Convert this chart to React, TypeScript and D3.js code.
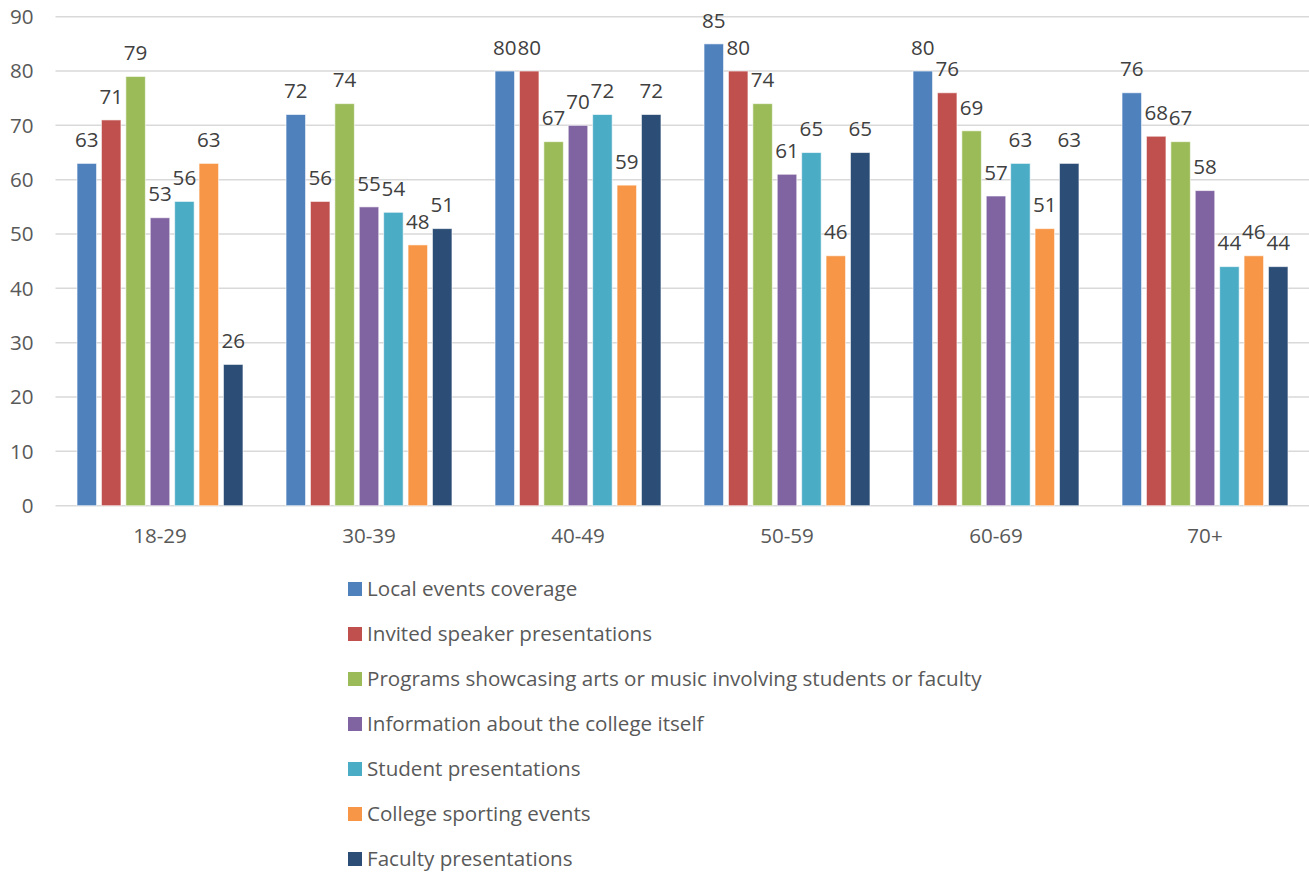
import React from "react";
import * as d3 from "d3";

const categories = ["18-29", "30-39", "40-49", "50-59", "60-69", "70+"];
const seriesNames = [
  "Local events coverage",
  "Invited speaker presentations",
  "Programs showcasing arts or music involving students or faculty",
  "Information about the college itself",
  "Student presentations",
  "College sporting events",
  "Faculty presentations",
];
const localEvents = [63, 72, 80, 85, 80, 76];
const invitedSpeaker = [71, 56, 80, 80, 76, 68];
const programsArts = [79, 74, 67, 74, 69, 67];
const infoCollege = [53, 55, 70, 61, 57, 58];
const studentPres = [56, 54, 72, 65, 63, 44];
const sporting = [63, 48, 59, 46, 51, 46];
const facultyPres = [26, 51, 72, 65, 63, 44];
const yTicks = [0, 10, 20, 30, 40, 50, 60, 70, 80, 90];

const seriesValues = [localEvents, invitedSpeaker, programsArts, infoCollege, studentPres, sporting, facultyPres];
const colors = ["#4F81BD", "#C0504D", "#9BBB59", "#8064A2", "#4BACC6", "#F79646", "#2C4D75"];

const W = 1309;
const H = 876;
const FONT = "Open Sans, sans-serif";
const FS = 20.6;

export default function App() {
  const plotLeft = 55.5;
  const plotRight = 1309.5;
  const y0 = 505.7;
  const y90 = 16.7;
  const x = d3.scaleBand<string>().domain(categories).range([plotLeft, plotRight]).paddingInner(0.206).paddingOuter(0.103);
  const xs = d3.scaleBand<number>().domain(d3.range(seriesNames.length)).range([0, x.bandwidth()]).paddingInner(0.2);
  const y = d3.scaleLinear().domain([0, 90]).range([y0, y90]);

  return (
    <div style={{ position: "absolute", left: 0, top: 0 }}>
      <svg width={W} height={H} style={{ display: "block", background: "#fff" }} fontFamily={FONT}>
        {yTicks.map((t) => (
          <g key={t}>
            <line x1={plotLeft} x2={plotRight} y1={y(t)} y2={y(t)} stroke="#D9D9D9" strokeWidth={1.5} />
            <text x={33.5} y={y(t)} dy="0.35em" textAnchor="end" fontSize={FS} fill="#595959">{t}</text>
          </g>
        ))}
        {categories.map((c, ci) => (
          <g key={c}>
            {seriesValues.map((vals, si) => {
              const bx = (x(c) as number) + (xs(si) as number);
              const v = vals[ci];
              return (
                <g key={si}>
                  <rect x={bx} y={y(v)} width={xs.bandwidth()} height={y0 - y(v)} fill={colors[si]} stroke="#ffffff" strokeOpacity={0.6} strokeWidth={1} />
                  <text x={bx + xs.bandwidth() / 2} y={y(v) - 23.5} dy="0.35em" textAnchor="middle" fontSize={FS} fill="#404040">{v}</text>
                </g>
              );
            })}
            <text x={(x(c) as number) + x.bandwidth() / 2} y={536} dy="0.35em" textAnchor="middle" fontSize={FS} fill="#595959">{c}</text>
          </g>
        ))}
        {seriesNames.map((n, i) => (
          <g key={n} transform={`translate(348, ${589 + i * 45})`}>
            <rect x={0} y={-7} width={14} height={14} fill={colors[i]} />
            <text x={19} y={0} dy="0.35em" fontSize={FS} fill="#595959">{n}</text>
          </g>
        ))}
      </svg>
    </div>
  );
}
